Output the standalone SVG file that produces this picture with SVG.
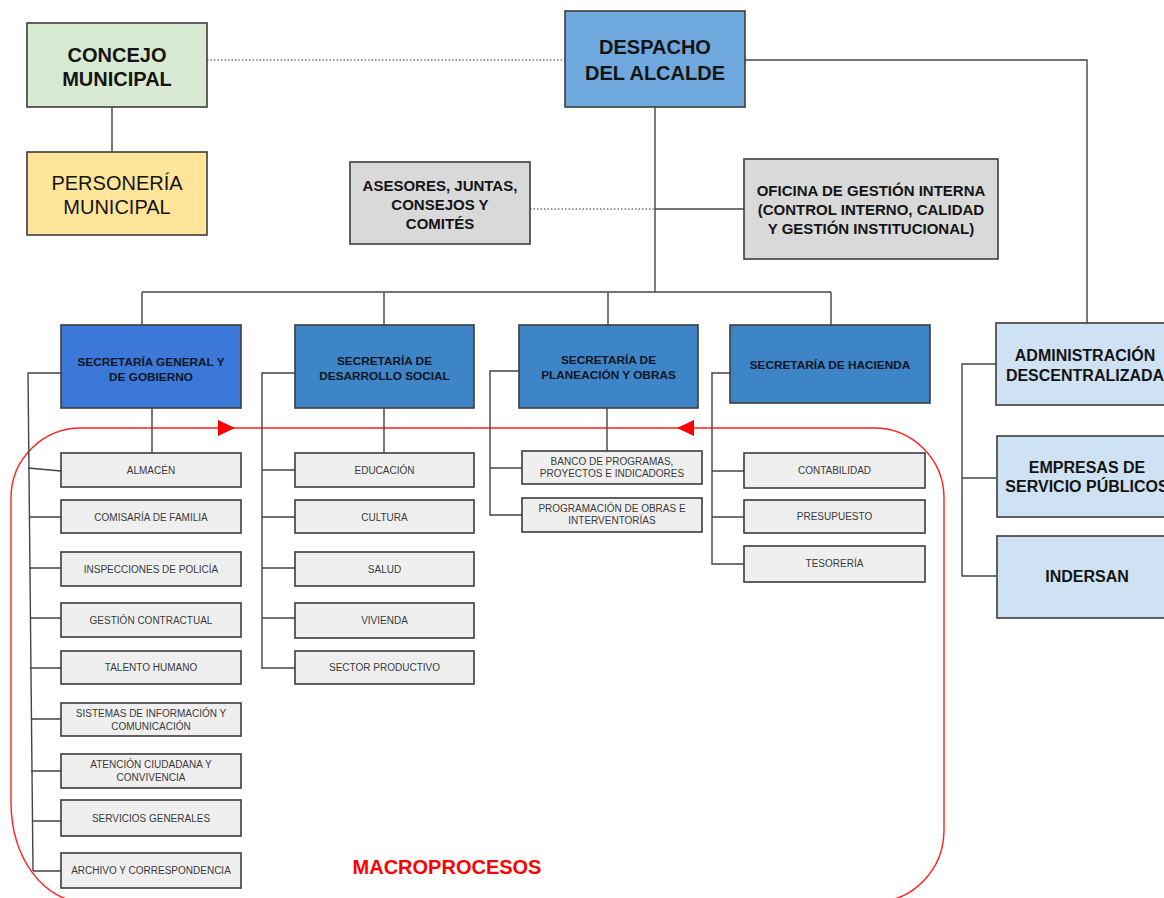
<svg xmlns="http://www.w3.org/2000/svg" width="1164" height="898" viewBox="0 0 1164 898">
<style>
  .bx{stroke:#3c3c3c;stroke-width:1.6}
  .t{font-family:"Liberation Sans",Arial,sans-serif;text-anchor:middle;fill:#141414}
  .b{font-weight:bold}
  .big{font-size:20px}
  .mid{font-size:15px}
  .sec{font-size:11.8px;font-weight:bold;fill:#0f1522}
  .ent{font-size:16px;font-weight:bold}
  .sub{font-size:10px;fill:#3a3a3a}
  .sb{fill:#efefef}
  .ln{fill:none;stroke:#444;stroke-width:1.4}
  .dot{fill:none;stroke:#777;stroke-width:1.3;stroke-dasharray:1.5 2}
  .red{fill:none;stroke:#ff2020;stroke-width:1.4}
</style>
<rect width="1164" height="898" fill="#ffffff"/>

<g id="macroprocesos">
  <path class="red" d="M11,498 A70,70 0 0 1 81,428 L874,428 A70,70 0 0 1 944,498 L944,830 A70,72 0 0 1 874,902 L84,902 A73,100 0 0 1 11,802 Z"/>
  <polygon points="218,420 218,436 235,428" fill="#ff0000"/>
  <polygon points="694,420 694,436 677,428" fill="#ff0000"/>
  <text class="t b" x="447" y="874" style="font-size:20px;fill:#ff0000">MACROPROCESOS</text>
</g>

<g id="connectors">
  <path class="dot" d="M207,60 H565"/>
  <path class="ln" d="M112,107 V152"/>
  <path class="ln" d="M655,107 V292"/>
  <path class="dot" d="M530,209 H655"/>
  <path class="ln" d="M655,209 H744"/>
  <path class="ln" d="M745,60 H1087 V323"/>
  <path class="ln" d="M142,292 H831"/>
  <path class="ln" d="M142,292 V325 M384,292 V325 M608,292 V325 M831,292 V325"/>
  <!-- General -->
  <path class="ln" d="M152,408 V453"/>
  <path class="ln" d="M61,373 H28 L33,871"/>
  <path class="ln" d="M28,468 L61,471 M29,517 H61 M29,568 H61 M30,618 H61 M30,668 H61 M31,719 H61 M31,771 H61 M32,821 H61 M33,871 H61"/>
  <!-- Desarrollo -->
  <path class="ln" d="M384,408 V453"/>
  <path class="ln" d="M295,373 H262 V669"/>
  <path class="ln" d="M262,470 H295 M262,517 H295 M262,568 H295 M262,618 H295 M262,668 H295"/>
  <!-- Planeación -->
  <path class="ln" d="M607,408 V451"/>
  <path class="ln" d="M519,371 H490 V515 H522 M490,468 H522"/>
  <!-- Hacienda -->
  <path class="ln" d="M730,373 H712 V564 H744 M712,471 H744 M712,517 H744"/>
  <!-- Descentralizada -->
  <path class="ln" d="M996,364 H962 V576 H996 M962,478 H996"/>
</g>

<g id="concejo">
  <rect class="bx" x="27" y="23" width="180" height="84" fill="#d9ead3"/>
  <text class="t b big" x="117" y="62">CONCEJO</text>
  <text class="t b big" x="117" y="86">MUNICIPAL</text>
</g>
<g id="personeria">
  <rect class="bx" x="27" y="152" width="180" height="83" fill="#ffe599"/>
  <text class="t big" x="117" y="190">PERSONERÍA</text>
  <text class="t big" x="117" y="214">MUNICIPAL</text>
</g>
<g id="despacho">
  <rect class="bx" x="565" y="11" width="180" height="96" fill="#6fa8dc"/>
  <text class="t b big" x="655" y="54">DESPACHO</text>
  <text class="t b big" x="655" y="80">DEL ALCALDE</text>
</g>
<g id="asesores">
  <rect class="bx" x="350" y="162" width="180" height="82" fill="#d9d9d9"/>
  <text class="t b mid" x="440" y="191">ASESORES, JUNTAS,</text>
  <text class="t b mid" x="440" y="210">CONSEJOS Y</text>
  <text class="t b mid" x="440" y="229">COMITÉS</text>
</g>
<g id="oficina">
  <rect class="bx" x="744" y="159" width="254" height="100" fill="#d9d9d9"/>
  <text class="t b mid" x="871" y="196">OFICINA DE GESTIÓN INTERNA</text>
  <text class="t b mid" x="871" y="215">(CONTROL INTERNO, CALIDAD</text>
  <text class="t b mid" x="871" y="234">Y GESTIÓN INSTITUCIONAL)</text>
</g>

<g id="sec-general">
  <rect class="bx" x="61" y="325" width="180" height="83" fill="#3c78d8"/>
  <text class="t sec" x="151" y="366">SECRETARÍA GENERAL Y</text>
  <text class="t sec" x="151" y="381">DE GOBIERNO</text>
</g>
<g id="sec-desarrollo">
  <rect class="bx" x="295" y="325" width="179" height="83" fill="#3d85c6"/>
  <text class="t sec" x="384.5" y="365">SECRETARÍA DE</text>
  <text class="t sec" x="384.5" y="380">DESARROLLO SOCIAL</text>
</g>
<g id="sec-planeacion">
  <rect class="bx" x="519" y="325" width="179" height="83" fill="#3d85c6"/>
  <text class="t sec" x="608.5" y="364">SECRETARÍA DE</text>
  <text class="t sec" x="608.5" y="379">PLANEACIÓN Y OBRAS</text>
</g>
<g id="sec-hacienda">
  <rect class="bx" x="730" y="325" width="200" height="78" fill="#3d85c6"/>
  <text class="t sec" x="830" y="369">SECRETARÍA DE HACIENDA</text>
</g>

<g id="administracion">
  <rect class="bx" x="996" y="323" width="180" height="82" fill="#cfe2f3"/>
  <text class="t ent" x="1085" y="361">ADMINISTRACIÓN</text>
  <text class="t ent" x="1085" y="381">DESCENTRALIZADA</text>
</g>
<g id="empresas">
  <rect class="bx" x="997" y="436" width="180" height="81" fill="#cfe2f3"/>
  <text class="t ent" x="1087" y="473">EMPRESAS DE</text>
  <text class="t ent" x="1087" y="492">SERVICIO PÚBLICOS</text>
</g>
<g id="indersan">
  <rect class="bx" x="997" y="536" width="180" height="82" fill="#cfe2f3"/>
  <text class="t ent" x="1087" y="582">INDERSAN</text>
</g>

<g id="almacen"><rect class="bx sb" x="61" y="453" width="180" height="34"/><text class="t sub" x="151" y="474">ALMACÉN</text></g>
<g id="comisaria"><rect class="bx sb" x="61" y="500" width="180" height="33"/><text class="t sub" x="151" y="521">COMISARÍA DE FAMILIA</text></g>
<g id="inspecciones"><rect class="bx sb" x="61" y="552" width="180" height="34"/><text class="t sub" x="151" y="572.5">INSPECCIONES DE POLICÍA</text></g>
<g id="gestion-contractual"><rect class="bx sb" x="61" y="603" width="180" height="34"/><text class="t sub" x="151" y="623.5">GESTIÓN CONTRACTUAL</text></g>
<g id="talento-humano"><rect class="bx sb" x="61" y="651" width="180" height="33"/><text class="t sub" x="151" y="671">TALENTO HUMANO</text></g>
<g id="sistemas"><rect class="bx sb" x="61" y="703" width="180" height="33"/><text class="t sub" x="151" y="717">SISTEMAS DE INFORMACIÓN Y</text><text class="t sub" x="151" y="730">COMUNICACIÓN</text></g>
<g id="atencion"><rect class="bx sb" x="61" y="754" width="180" height="34"/><text class="t sub" x="151" y="768">ATENCIÓN CIUDADANA Y</text><text class="t sub" x="151" y="781">CONVIVENCIA</text></g>
<g id="servicios"><rect class="bx sb" x="61" y="800" width="180" height="36"/><text class="t sub" x="151" y="821.5">SERVICIOS GENERALES</text></g>
<g id="archivo"><rect class="bx sb" x="61" y="853" width="180" height="35"/><text class="t sub" x="151" y="874">ARCHIVO Y CORRESPONDENCIA</text></g>

<g id="educacion"><rect class="bx sb" x="295" y="453" width="179" height="34"/><text class="t sub" x="384.5" y="474">EDUCACIÓN</text></g>
<g id="cultura"><rect class="bx sb" x="295" y="500" width="179" height="33"/><text class="t sub" x="384.5" y="521">CULTURA</text></g>
<g id="salud"><rect class="bx sb" x="295" y="552" width="179" height="34"/><text class="t sub" x="384.5" y="572.5">SALUD</text></g>
<g id="vivienda"><rect class="bx sb" x="295" y="603" width="179" height="35"/><text class="t sub" x="384.5" y="624">VIVIENDA</text></g>
<g id="sector-productivo"><rect class="bx sb" x="295" y="651" width="179" height="33"/><text class="t sub" x="384.5" y="671">SECTOR PRODUCTIVO</text></g>

<g id="banco"><rect class="bx sb" x="522" y="451" width="180" height="33"/><text class="t sub" x="612" y="465">BANCO DE PROGRAMAS,</text><text class="t sub" x="612" y="477">PROYECTOS E INDICADORES</text></g>
<g id="programacion"><rect class="bx sb" x="522" y="498" width="180" height="34"/><text class="t sub" x="612" y="511.5">PROGRAMACIÓN DE OBRAS E</text><text class="t sub" x="612" y="524">INTERVENTORÍAS</text></g>

<g id="contabilidad"><rect class="bx sb" x="744" y="453" width="181" height="35"/><text class="t sub" x="834.5" y="474">CONTABILIDAD</text></g>
<g id="presupuesto"><rect class="bx sb" x="744" y="500" width="181" height="33"/><text class="t sub" x="834.5" y="520">PRESUPUESTO</text></g>
<g id="tesoreria"><rect class="bx sb" x="744" y="546" width="181" height="36"/><text class="t sub" x="834.5" y="567">TESORERÍA</text></g>
</svg>
